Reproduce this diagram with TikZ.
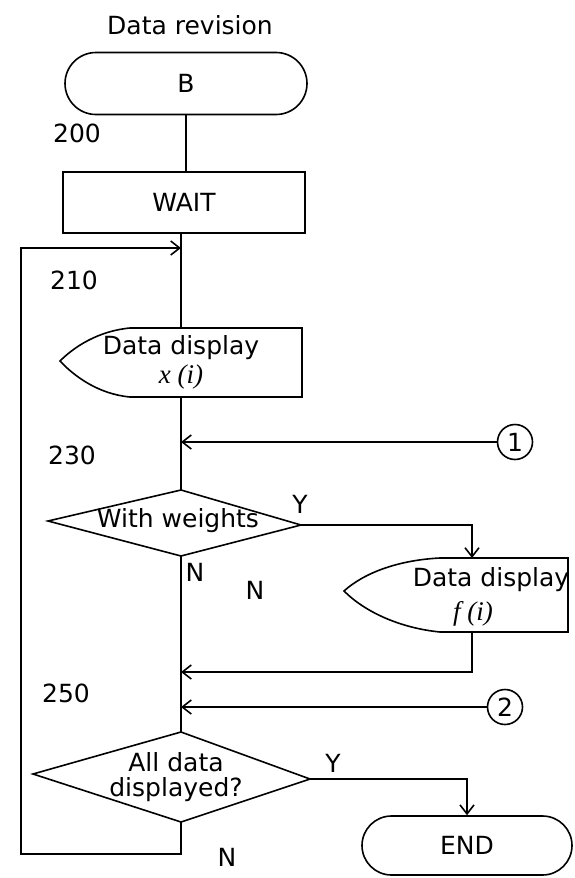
\documentclass[tikz,border=0pt]{standalone}
\usepackage{fontspec}
\setmainfont{DejaVu Sans}
\newfontfamily\serifit{Liberation Serif}
\usetikzlibrary{arrows.meta,shapes.misc}
\begin{document}
\begin{tikzpicture}[x=1pt,y=-1pt,
  every node/.style={font=\fontsize{25}{28}\selectfont, inner sep=0pt},
  ln/.style={line width=1.6pt},
  arr/.style={ln,-{Straight Barb[length=9pt,width=14pt]}},
  term/.style={draw,ln,rounded rectangle,minimum height=62pt},
  proc/.style={draw,ln,rectangle,minimum height=61pt},
  conn/.style={draw,ln,circle,minimum size=35pt},
  mathlbl/.style={font=\fontsize{27}{30}\serifit\itshape}
]
\useasboundingbox (0,0) rectangle (575,878);

% title and start
\node (title) at (190,25) {Data revision};
\node[term, minimum width=242pt] (B) at (186,83.5) {B};
\node (l200) at (77,133) {200};
\node[proc, minimum width=242pt] (wait) at (184,202.5) {WAIT};
\draw[ln] (B.south) -- (B.south |- wait.north);

% display x(i)
\coordinate (xdN) at (181,328);
\coordinate (xdS) at (181,397);
\draw[ln] (wait.south -| xdN) -- (xdN);
\draw[ln] (130,328) -- (302,328) -- (302,397) -- (130,397)
  .. controls (98,394) and (74,376) .. (60,361)
  .. controls (74,347) and (98,331) .. (130,328) -- cycle;
\node (xd1) at (181,348) {Data display};
\node[mathlbl] (xd2) at (181,377) {x (i)};
\node (l210) at (74,280) {210};

% connector 1
\node[conn] (c1) at (515,442) {1};
\draw[arr] (c1.west) -- (c1.west -| xdS);
\node (l230) at (72,455) {230};

% decision 1
\coordinate (d1N) at (181,490);
\coordinate (d1W) at (48,521);
\coordinate (d1E) at (301,525);
\coordinate (d1S) at (181,556);
\draw[ln] (xdS) -- (d1N);
\draw[ln] (d1N) -- (d1E) -- (d1S) -- (d1W) -- cycle;
\node (d1t) at (178,521) {With weights};
\node (y1) at (300,504) {Y};
\node (n1) at (195,572) {N};
\node (n2) at (255,590) {N};

% display f(i)
\coordinate (fdN) at (472,558);
\coordinate (fdS) at (472,632);
\draw[arr] (d1E) -| (fdN);
\draw[ln] (440,558) -- (568,558) -- (568,632) -- (440,632)
  .. controls (400,628) and (365,612) .. (344,591)
  .. controls (365,572) and (400,560) .. (440,558) -- cycle;
\node (fd1) at (491,580) {Data display};
\node[mathlbl] (fd2) at (473,614) {f (i)};
\coordinate (m1) at (181,672);
\draw[arr] (fdS) |- (m1);

% connector 2
\node[conn] (c2) at (505,707) {2};
\coordinate (d2N) at (181,732);
\draw[arr] (c2.west) -- (c2.west -| d2N);
\node (l250) at (66,693) {250};

% decision 2
\coordinate (d2W) at (33,774);
\coordinate (d2E) at (310,779);
\coordinate (d2S) at (181,822);
\draw[ln] (d1S) -- (d2N);
\draw[ln] (d2N) -- (d2E) -- (d2S) -- (d2W) -- cycle;
\node (d2t1) at (176,762) {All data};
\node (d2t2) at (176,790) {displayed?};
\node (y2) at (333,763) {Y};
\node (n3) at (227,857) {N};

% end
\node[term, minimum width=210pt, minimum height=59pt] (end) at (467,845.5) {END};
\draw[arr] (d2E) -| (end.north);

% loop back
\coordinate (loopBL) at (21,854);
\coordinate (loopT) at (181,248);
\draw[arr] (d2S) |- (loopBL) |- (loopT);
\end{tikzpicture}
\end{document}
